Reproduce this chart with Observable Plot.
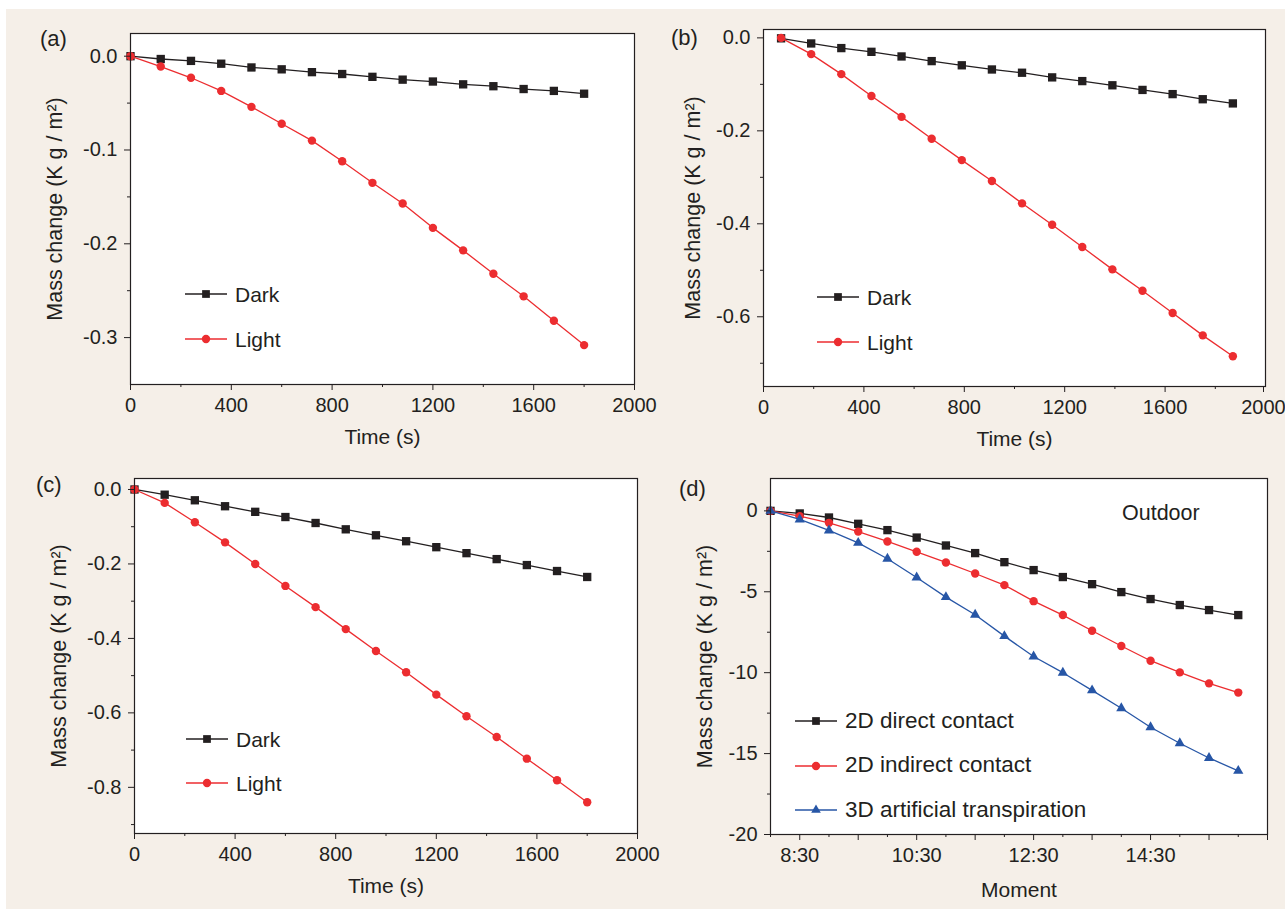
<!DOCTYPE html>
<html>
<head>
<meta charset="utf-8">
<script src="https://cdn.jsdelivr.net/npm/d3@7"></script>
<script src="https://cdn.jsdelivr.net/npm/@observablehq/plot@0.6"></script>
<style>
html, body { margin: 0; padding: 0; background: #ffffff; }
#page { position: relative; width: 1285px; height: 909px; overflow: hidden; background: #ffffff;
  font-family: "Liberation Sans", Arial, Helvetica, sans-serif; color: #231f20; }
#bg { position: absolute; left: 6px; top: 9px; right: 0; bottom: 0; background: #f5efe8; }
.panel { position: absolute; }
.note { position: absolute; white-space: nowrap; line-height: 1; }
.lrow { position: absolute; height: 0; display: flex; align-items: center; white-space: nowrap; }
.lrow span { margin-left: 8px; line-height: 1; }
</style>
</head>
<body>
<div id="page"><div id="bg"></div></div>
<script>
// ---------- data ----------
// (a)
const timeA  = [0, 120, 240, 360, 480, 600, 720, 840, 960, 1080, 1200, 1320, 1440, 1560, 1680, 1800];
const darkA  = [0, -0.003, -0.005, -0.008, -0.012, -0.014, -0.017, -0.019, -0.022, -0.025, -0.027, -0.030, -0.032, -0.035, -0.037, -0.040];
const lightA = [0, -0.011, -0.023, -0.037, -0.054, -0.072, -0.090, -0.112, -0.135, -0.157, -0.183, -0.207, -0.232, -0.256, -0.282, -0.308];
// (b)
const timeB  = [70, 190, 310, 430, 550, 670, 790, 910, 1030, 1150, 1270, 1390, 1510, 1630, 1750, 1870];
const darkB  = [-0.001, -0.012, -0.022, -0.030, -0.040, -0.050, -0.059, -0.068, -0.075, -0.085, -0.093, -0.102, -0.112, -0.121, -0.132, -0.141];
const lightB = [0, -0.035, -0.078, -0.125, -0.170, -0.217, -0.263, -0.308, -0.356, -0.402, -0.450, -0.498, -0.544, -0.592, -0.640, -0.685];
// (c)
const timeC  = [0, 120, 240, 360, 480, 600, 720, 840, 960, 1080, 1200, 1320, 1440, 1560, 1680, 1800];
const darkC  = [0, -0.014, -0.029, -0.045, -0.060, -0.074, -0.090, -0.107, -0.123, -0.139, -0.155, -0.171, -0.187, -0.203, -0.219, -0.235];
const lightC = [0, -0.036, -0.088, -0.142, -0.200, -0.259, -0.316, -0.375, -0.434, -0.491, -0.551, -0.609, -0.665, -0.723, -0.781, -0.840];
// (d) outdoor, moment in hours of the day
const momentD     = [8, 8.5, 9, 9.5, 10, 10.5, 11, 11.5, 12, 12.5, 13, 13.5, 14, 14.5, 15, 15.5, 16];
const directD     = [0, -0.16, -0.41, -0.80, -1.19, -1.65, -2.14, -2.61, -3.17, -3.66, -4.09, -4.53, -5.02, -5.45, -5.82, -6.13, -6.44];
const indirectD   = [0, -0.33, -0.74, -1.28, -1.89, -2.53, -3.19, -3.87, -4.59, -5.58, -6.44, -7.41, -8.35, -9.26, -9.98, -10.66, -11.23];
const artificialD = [0, -0.53, -1.21, -1.98, -2.96, -4.12, -5.33, -6.42, -7.74, -9.00, -10.00, -11.09, -12.20, -13.37, -14.36, -15.27, -16.07];

// tick values
const timeMajor = [0, 400, 800, 1200, 1600];
const timeEnd = [2000];
const timeMinor = [200, 600, 1000, 1400, 1800];
const yMajorA = [0, -0.1, -0.2, -0.3];
const yMinorA = [-0.05, -0.15, -0.25];
const yMajorB = [0, -0.2, -0.4, -0.6];
const yMinorB = [-0.1, -0.3, -0.5, -0.7];
const yMajorC = [0, -0.2, -0.4, -0.6, -0.8];
const yMinorC = [-0.1, -0.3, -0.5, -0.7, -0.9];
const yMajorD = [0, -5, -10, -15, -20];
const yMinorD = [-2.5, -7.5, -12.5, -17.5];
const momentLabelled = [8.5, 10.5, 12.5, 14.5];
const momentMajor = [9.5, 11.5, 13.5, 15.5, 16.5];
const momentMinor = [8, 9, 10, 11, 12, 13, 14, 15, 16];

const panelLabels = ["(a)", "(b)", "(c)", "(d)"];
const legendAC = ["Dark", "Light"];
const legendD = ["2D direct contact", "2D indirect contact", "3D artificial transpiration"];
const yTitle = "Mass change (K g / m\u00B2)";

// ---------- styling ----------
const ink = "#231f20", red = "#ec2d30", blue = "#2756a6";
const FONT = '"Liberation Sans", Arial, Helvetica, sans-serif';
const page = document.getElementById("page");

const fmt1 = d => d.toFixed(1);
const fmtInt = d => String(d);
const fmtHour = h => `${Math.floor(h)}:${String(Math.round((h % 1) * 60)).padStart(2, "0")}`;

function panel(cfg) {
  const {left, top, width, height, frame, xDomain, yDomain, series} = cfg;
  const marks = [Plot.frame({fill: "white", stroke: null})];
  for (const s of series) {
    const d = s.x.map((x, i) => ({x, y: s.y[i]}));
    marks.push(Plot.line(d, {x: "x", y: "y", stroke: s.color, strokeWidth: 1.3}));
    marks.push(Plot.dot(d, {x: "x", y: "y", symbol: s.symbol, r: s.r, fill: s.color, stroke: null}));
  }
  marks.push(Plot.frame({stroke: ink, strokeWidth: 1.2}));
  for (const t of cfg.xTicks) {
    marks.push(Plot.axisX(t.values, {tickSize: t.size, tickPadding: 7, tickFormat: t.format || (() => ""),
      fontSize: 20, stroke: ink, fill: ink, label: null, dx: t.dx || 0}));
  }
  marks.push(Plot.axisX([], {tickSize: 0, label: cfg.xLabel, labelAnchor: "center", labelArrow: "none",
    labelOffset: cfg.xLabelOffset, fontSize: 21, fill: ink}));
  for (const t of cfg.yTicks) {
    marks.push(Plot.axisY(t.values, {tickSize: t.size, tickPadding: 7, tickFormat: t.format || (() => ""),
      fontSize: 20, stroke: ink, fill: ink, label: null}));
  }
  marks.push(Plot.axisY([], {tickSize: 0, label: yTitle, labelAnchor: "center", labelArrow: "none",
    labelOffset: cfg.yLabelOffset, fontSize: 21.5, fill: ink, dy: 5}));

  const svg = Plot.plot({
    width, height,
    marginLeft: frame.l - left, marginRight: left + width - frame.r,
    marginTop: frame.t - top, marginBottom: top + height - frame.b,
    style: {background: "transparent", fontFamily: FONT, color: ink, overflow: "visible"},
    x: {domain: xDomain},
    y: {domain: yDomain},
    marks
  });
  const wrap = document.createElement("div");
  wrap.className = "panel";
  wrap.style.left = left + "px";
  wrap.style.top = top + "px";
  wrap.appendChild(svg);
  page.appendChild(wrap);
}

function note(text, x, y, size) {
  const el = document.createElement("div");
  el.className = "note";
  el.textContent = text;
  el.style.left = x + "px";
  el.style.top = y + "px";
  el.style.fontSize = size + "px";
  el.style.transform = "translateY(-50%)";
  page.appendChild(el);
}

function legend(x, y, gap, size, items) {
  items.forEach((it, i) => {
    const row = document.createElement("div");
    row.className = "lrow";
    row.style.left = x + "px";
    row.style.top = (y + i * gap) + "px";
    const s = d3.create("svg").attr("width", 42).attr("height", 16).style("overflow", "visible");
    s.append("line").attr("x1", 0).attr("x2", 42).attr("y1", 8).attr("y2", 8)
      .attr("stroke", it.color).attr("stroke-width", 1.3);
    s.append("path").attr("transform", "translate(21,8)")
      .attr("d", d3.symbol(it.symbol, it.area)()).attr("fill", it.color);
    row.appendChild(s.node());
    const sp = document.createElement("span");
    sp.textContent = it.name;
    sp.style.fontSize = size + "px";
    row.appendChild(sp);
    page.appendChild(row);
  });
}

const timeTicksA = [{values: timeMajor, size: 6, format: fmtInt}, {values: timeEnd, size: 6, format: fmtInt}, {values: timeMinor, size: 3}];
const timeTicksB = [{values: timeMajor, size: 6, format: fmtInt}, {values: timeEnd, size: 6, format: fmtInt, dx: -2}, {values: timeMinor, size: 3}];

panel({left: 0, top: 0, width: 645, height: 450, frame: {l: 130, r: 634, t: 33, b: 384},
  xDomain: [0, 2000], yDomain: [-0.35, 0.0242],
  xTicks: timeTicksA, yTicks: [{values: yMajorA, size: 6, format: fmt1}, {values: yMinorA, size: 3}],
  xLabel: "Time (s)", xLabelOffset: 59, yLabelOffset: 84,
  series: [
    {x: timeA, y: darkA, color: ink, symbol: "square", r: 4.7},
    {x: timeA, y: lightA, color: red, symbol: "circle", r: 4.2}
  ]});

panel({left: 645, top: 0, width: 640, height: 450, frame: {l: 763, r: 1265, t: 29, b: 386},
  xDomain: [0, 2000], yDomain: [-0.75, 0.018],
  xTicks: timeTicksB, yTicks: [{values: yMajorB, size: 6, format: fmt1}, {values: yMinorB, size: 3}],
  xLabel: "Time (s)", xLabelOffset: 59, yLabelOffset: 79,
  series: [
    {x: timeB, y: darkB, color: ink, symbol: "square", r: 4.7},
    {x: timeB, y: lightB, color: red, symbol: "circle", r: 4.2}
  ]});

panel({left: 0, top: 450, width: 645, height: 459, frame: {l: 134, r: 637, t: 478, b: 833},
  xDomain: [0, 2000], yDomain: [-0.924, 0.0295],
  xTicks: timeTicksA, yTicks: [{values: yMajorC, size: 6, format: fmt1}, {values: yMinorC, size: 3}],
  xLabel: "Time (s)", xLabelOffset: 59, yLabelOffset: 84,
  series: [
    {x: timeC, y: darkC, color: ink, symbol: "square", r: 4.7},
    {x: timeC, y: lightC, color: red, symbol: "circle", r: 4.2}
  ]});

panel({left: 645, top: 450, width: 640, height: 459, frame: {l: 770, r: 1267, t: 478, b: 834},
  xDomain: [8, 16.5], yDomain: [-20, 2.0],
  xTicks: [{values: momentLabelled, size: 6, format: fmtHour}, {values: momentMajor, size: 6}, {values: momentMinor, size: 3}],
  yTicks: [{values: yMajorD, size: 6, format: fmtInt}, {values: yMinorD, size: 3}],
  xLabel: "Moment", xLabelOffset: 62, yLabelOffset: 74,
  series: [
    {x: momentD, y: directD, color: ink, symbol: "square", r: 4.7},
    {x: momentD, y: indirectD, color: red, symbol: "circle", r: 4.2},
    {x: momentD, y: artificialD, color: blue, symbol: "triangle", r: 3.8}
  ]});

// panel letters and annotation
note(panelLabels[0], 40, 39, 22);
note(panelLabels[1], 671, 38, 22);
note(panelLabels[2], 36, 485, 22);
note(panelLabels[3], 679, 489, 22);
note("Outdoor", 1122, 514, 21.5);

const sq = {symbol: d3.symbolSquare, area: 60}, ci = {symbol: d3.symbolCircle, area: 55}, tr = {symbol: d3.symbolTriangle, area: 40};
legend(185, 294, 45, 21, [{name: legendAC[0], color: ink, ...sq}, {name: legendAC[1], color: red, ...ci}]);
legend(817, 297, 45, 21, [{name: legendAC[0], color: ink, ...sq}, {name: legendAC[1], color: red, ...ci}]);
legend(186, 739, 44, 21, [{name: legendAC[0], color: ink, ...sq}, {name: legendAC[1], color: red, ...ci}]);
legend(795, 721, 44.5, 22.5, [{name: legendD[0], color: ink, ...sq}, {name: legendD[1], color: red, ...ci}, {name: legendD[2], color: blue, ...tr}]);
</script>
</body>
</html>
